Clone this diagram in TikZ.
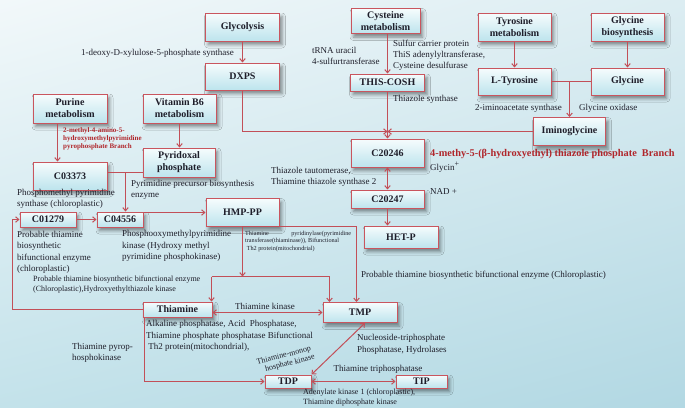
\documentclass[tikz,border=0pt]{standalone}
\usepackage{fontspec}
\setmainfont{Liberation Serif}
\usetikzlibrary{arrows.meta,shadows.blur,shadings}
\definecolor{lc}{HTML}{C24F58}
\definecolor{bc}{HTML}{C9555E}
\definecolor{rt}{HTML}{B0262B}
\definecolor{btop}{HTML}{F6FCFD}
\definecolor{bbot}{HTML}{BDE4ED}
\definecolor{bgA}{HTML}{F2F8FA}
\definecolor{bgB}{HTML}{DCEDF2}
\definecolor{bgC}{HTML}{C3E2EA}
\definecolor{bgD}{HTML}{B2D8E3}
\definecolor{tx}{HTML}{1E1E2A}
\begin{document}
\begin{tikzpicture}[x=1pt,y=-1pt,
 box/.style={draw=bc, line width=1pt, top color=btop, bottom color=bbot, inner sep=0pt, align=center,
   font=\fontsize{10}{12}\selectfont\bfseries, text=tx,
   blur shadow={shadow xshift=2.5pt, shadow yshift=-3.5pt, shadow opacity=45, shadow blur radius=3.5pt}},
 wh/.style 2 args={minimum width=#1pt, minimum height=#2pt},
 lbl/.style={inner sep=0pt, align=left, font=\fontsize{9}{11.5}\selectfont, text=tx},
 arr/.style={draw=lc, line width=1pt, -{Straight Barb[length=3.2pt,width=5.5pt]}},
 darr/.style={draw=lc, line width=1pt, {Straight Barb[length=3.2pt,width=5.5pt]}-{Straight Barb[length=3.2pt,width=5.5pt]}},
 ln/.style={draw=lc, line width=1pt}]
\useasboundingbox (0,0) rectangle (685,407);
\shade[upper left=bgA, upper right=bgB, lower left=bgC, lower right=bgD] (0,0) rectangle (685,407);

% boxes
\node[box, wh={74}{28}] (glyc) at (242.5,27) {Glycolysis};
\node[box, wh={74}{27}] (dxps) at (242.5,76.5) {DXPS};
\node[box, wh={69}{25}] (cys) at (385.5,21) {Cysteine\\metabolism};
\node[box, wh={74}{17}] (thiscosh) at (387.5,82.5) {THIS-COSH};
\node[box, wh={73}{28}] (tyrm) at (514.5,27) {Tyrosine\\metabolism};
\node[box, wh={73}{28}] (glyb) at (627.5,27) {Glycine\\biosynthesis};
\node[box, wh={73}{27}] (ltyr) at (514.5,81.5) {L-Tyrosine};
\node[box, wh={73}{27}] (glycine) at (627.5,81.5) {Glycine};
\node[box, wh={72}{28}] (imino) at (569.5,131.5) {Iminoglycine};
\node[box, wh={74}{29}] (purine) at (70,108.5) {Purine\\metabolism};
\node[box, wh={73}{29}] (vitb6) at (179.5,108.5) {Vitamin B6\\metabolism};
\node[box, wh={74}{28}] (c03373) at (70,176) {C03373};
\node[box, wh={72}{29}] (pyrid) at (179,162.5) {Pyridoxal\\phosphate};
\node[box, wh={56}{15}] (c01279) at (48,219.5) {C01279};
\node[box, wh={46}{15}] (c04556) at (120,219.5) {C04556};
\node[box, wh={73}{28}] (hmppp) at (242.5,212.5) {HMP-PP};
\node[box, wh={73}{28}] (c20246) at (387.5,153) {C20246};
\node[box, wh={73}{18}] (c20247) at (387.5,199) {C20247};
\node[box, wh={74}{22}] (hetp) at (401,237) {HET-P};
\node[box, wh={69}{15}] (thiamine) at (177.5,309.5) {Thiamine};
\node[box, wh={74}{20}] (tmp) at (360,312.5) {TMP};
\node[box, wh={46}{13}] (tdp) at (288,381.5) {TDP};
\node[box, wh={51}{13}] (tip) at (421.5,381.5) {TIP};

% junction coordinates
\coordinate (J) at (387.5,131.5);
\coordinate (J2) at (125.5,172.5);
\coordinate (L) at (12.5,219.5);
\coordinate (K) at (242.5,276.5);
\coordinate (K1) at (211.5,276.5);
\coordinate (K2) at (329.5,276.5);
\coordinate (M) at (356.5,226.5);

% connectors
\draw[arr] (glyc) -- (dxps);
\draw[arr] (thiscosh.north |- cys.south) -- (thiscosh.north);
\draw[arr] (thiscosh.south) -- (thiscosh.south |- c20246.north);
\draw[arr] (dxps.south) |- (J);
\draw[arr] (imino.west) -- (J);
\draw[arr] (tyrm) -- (ltyr);
\draw[arr] (glyb) -- (glycine);
\draw[ln] (ltyr.east) -- (glycine.west);
\draw[arr] (imino.north |- ltyr.east) -- (imino.north);
\draw[arr] ([xshift=-12.5pt]purine.south) -- ([xshift=-12.5pt]c03373.north);
\draw[arr] (vitb6.south) -- (vitb6.south |- pyrid.north);
\draw[ln] (c03373.east |- J2) -- (pyrid.west |- J2);
\draw[arr] (J2) -- (J2 |- c04556.north);
\draw[arr] (c01279.east) -- (c04556.west);
\draw[arr] (c04556.east |- hmppp.west) -- (hmppp.west);
\draw[arr] (thiamine.west) -| (L) -- (c01279.west);
\draw[arr] (hmppp.south) -- (K);
\draw[ln] (K1) -- (K2);
\draw[arr] (K1) -- (K1 |- thiamine.north);
\draw[arr] (K2) -- (K2 |- tmp.north);
\draw[arr] (hmppp.south) |- (M) -- (M |- tmp.north);
\draw[darr] (thiamine.east |- tmp.west) -- (tmp.west);
\draw[arr] ([xshift=1.5pt]thiamine.south west) |- (tdp.west);
\draw[darr] ([xshift=5pt]tmp.south) -- (tdp.north east);
\draw[darr] (tdp.east) -- (tip.west);
\draw[darr] (c20246.south) -- (c20247.north);
\draw[arr] (c20247.south) -- (c20247.south |- hetp.north);

% labels
\node[lbl, anchor=west] (l1) at (81,53) {1-deoxy-D-xylulose-5-phosphate synthase};
\node[lbl, anchor=west, font=\fontsize{9}{11}\selectfont] (l2) at (312,55.5) {tRNA uracil\\4-sulfurtransferase};
\node[lbl, anchor=west, font=\fontsize{9}{11}\selectfont] (l3) at (393,55) {Sulfur carrier protein\\ThiS adenylyltransferase,\\Cysteine desulfurase};
\node[lbl, anchor=west] (l4) at (393,99) {Thiazole synthase};
\node[lbl, anchor=west] (l5) at (475,108) {2-iminoacetate synthase};
\node[lbl, anchor=west] (l6) at (579,108) {Glycine oxidase};
\node[lbl, anchor=west, text=rt, font=\fontsize{7}{8}\selectfont\bfseries] (l7) at (63,139) {2-methyl-4-amino-5-\\hydroxymethylpyrimidine\\pyrophosphate Branch};
\node[lbl, anchor=west] (l8) at (131,190) {Pyrimidine precursor biosynthesis\\enzyme};
\node[lbl, anchor=west] (l9) at (17,199) {Phosphomethyl pyrimidine\\synthase (chloroplastic)};
\node[lbl, anchor=west] (l10) at (122,246) {Phosphooxymethylpyrimidine\\kinase (Hydroxy methyl\\pyrimidine phosphokinase)};
\node[lbl, anchor=west] (l11) at (17,252.5) {Probable thiamine\\biosynthetic\\bifunctional enzyme\\(chloroplastic)};
\node[lbl, anchor=west, font=\fontsize{8}{10}\selectfont] (l12) at (33,285) {Probable thiamine biosynthetic bifunctional enzyme\\(Chloroplastic),Hydroxyethylthiazole kinase};
\node[lbl, anchor=west, font=\fontsize{6.2}{7.7}\selectfont] (l13) at (245,241.5) {\makebox[106pt][s]{Thiamine pyridinylase(pyrimidine}\\transferase(thiaminase)), Bifunctional\\\ Th2 protein(mitochondrial)};
\node[lbl, anchor=west] (l14) at (361,275) {Probable thiamine biosynthetic bifunctional enzyme (Chloroplastic)};
\node[lbl] (l15) at (265,306) {Thiamine kinase};
\node[lbl, anchor=west] (l16) at (146,336) {Alkaline phosphatase, Acid\ \ Phosphatase,\\Thiamine phosphate phosphatase Bifunctional\\\ Th2 protein(mitochondrial),};
\node[lbl, anchor=west] (l17) at (72,353) {Thiamine pyrop-\\hosphokinase};
\node[lbl, align=center, rotate=14, font=\fontsize{8}{9}\selectfont] (l18) at (285,360) {Thiamine-monop\\\ \ \ \ hosphate kinase};
\node[lbl, anchor=west] (l19) at (357,344.5) {Nucleoside-triphosphate\\Phosphatase, Hydrolases};
\node[lbl] (l20) at (378,369) {Thiamine triphosphatase};
\node[lbl, anchor=west, font=\fontsize{8}{9.5}\selectfont] (l21) at (303,397.5) {Adenylate kinase 1 (chloroplastic),\\Thiamine diphosphate kinase};
\node[lbl, anchor=west, text=rt, font=\fontsize{10.3}{12}\selectfont\bfseries] (l22) at (430,154) {4-methy-5-(β-hydroxyethyl) thiazole phosphate\ \ Branch};
\node[lbl, anchor=west] (l23) at (430,167) {Glycin\raisebox{4pt}{\fontsize{8}{8}\selectfont +}};
\node[lbl, anchor=west] (l24) at (430,192) {NAD +};
\node[lbl, anchor=west] (l25) at (271,177) {Thiazole tautomerase,\\Thiamine thiazole synthase 2};
\end{tikzpicture}
\end{document}
